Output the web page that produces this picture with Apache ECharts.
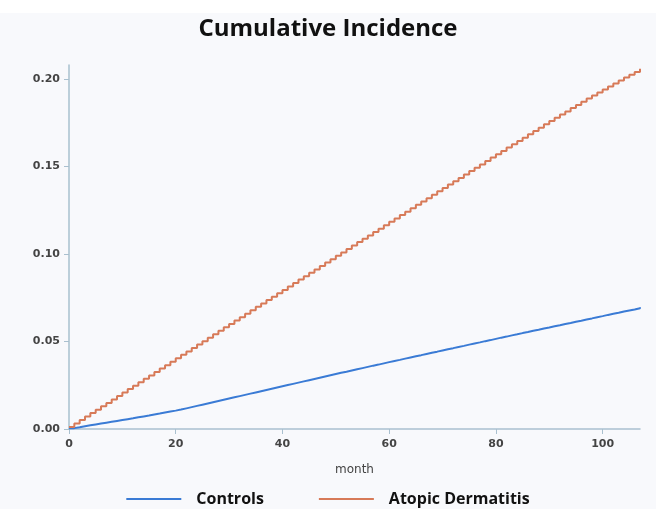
<!DOCTYPE html>
<html>
<head>
<meta charset="utf-8">
<script src="https://cdn.jsdelivr.net/npm/echarts@6/dist/echarts.min.js"></script>
<style>
  html, body { margin: 0; padding: 0; background: #f8f9fc; }
  #chart { width: 656px; height: 509px; }
</style>
</head>
<body>
<div id="chart"></div>
<script>
// month 0..107, cumulative incidence
var atopic = [
  0.0012, 0.0032, 0.0052, 0.0072, 0.0091, 0.0110, 0.0130, 0.0149, 0.0169, 0.0188,
  0.0208, 0.0228, 0.0247, 0.0267, 0.0287, 0.0306, 0.0326, 0.0346, 0.0365, 0.0385,
  0.0404, 0.0424, 0.0443, 0.0463, 0.0483, 0.0502, 0.0522, 0.0541, 0.0561, 0.0581,
  0.0600, 0.0620, 0.0639, 0.0659, 0.0678, 0.0698, 0.0717, 0.0737, 0.0756, 0.0776,
  0.0795, 0.0815, 0.0834, 0.0854, 0.0873, 0.0893, 0.0912, 0.0931, 0.0951, 0.0970,
  0.0990, 0.1009, 0.1029, 0.1048, 0.1068, 0.1087, 0.1106, 0.1126, 0.1145, 0.1165,
  0.1184, 0.1203, 0.1223, 0.1242, 0.1261, 0.1281, 0.1300, 0.1319, 0.1339, 0.1358,
  0.1377, 0.1397, 0.1416, 0.1435, 0.1454, 0.1474, 0.1493, 0.1512, 0.1531, 0.1551,
  0.1570, 0.1589, 0.1608, 0.1627, 0.1646, 0.1665, 0.1684, 0.1703, 0.1722, 0.1741,
  0.1760, 0.1778, 0.1797, 0.1815, 0.1834, 0.1852, 0.1870, 0.1888, 0.1906, 0.1923,
  0.1940, 0.1957, 0.1974, 0.1991, 0.2008, 0.2024, 0.2040, 0.2058
];
var controls = [
  0.0005, 0.0010, 0.0016, 0.0021, 0.0026, 0.0031, 0.0036, 0.0041, 0.0046, 0.0051,
  0.0056, 0.0061, 0.0067, 0.0072, 0.0077, 0.0083, 0.0088, 0.0094, 0.0100, 0.0105,
  0.0111, 0.0118, 0.0125, 0.0132, 0.0139, 0.0146, 0.0153, 0.0160, 0.0167, 0.0174,
  0.0181, 0.0188, 0.0195, 0.0202, 0.0209, 0.0216, 0.0223, 0.0230, 0.0237, 0.0244,
  0.0251, 0.0258, 0.0265, 0.0272, 0.0279, 0.0286, 0.0293, 0.0300, 0.0307, 0.0314,
  0.0321, 0.0327, 0.0334, 0.0341, 0.0348, 0.0355, 0.0362, 0.0368, 0.0375, 0.0382,
  0.0389, 0.0395, 0.0402, 0.0409, 0.0416, 0.0422, 0.0429, 0.0436, 0.0442, 0.0449,
  0.0456, 0.0462, 0.0469, 0.0475, 0.0482, 0.0489, 0.0495, 0.0502, 0.0508, 0.0515,
  0.0522, 0.0528, 0.0535, 0.0541, 0.0548, 0.0554, 0.0561, 0.0567, 0.0574, 0.0580,
  0.0587, 0.0593, 0.0600, 0.0606, 0.0613, 0.0619, 0.0626, 0.0632, 0.0639, 0.0645,
  0.0652, 0.0658, 0.0664, 0.0671, 0.0677, 0.0683, 0.0690, 0.0696
];
var xTicks = [0, 20, 40, 60, 80, 100];
var yTicks = [0, 0.05, 0.10, 0.15, 0.20];
var seriesNames = ['Controls', 'Atopic Dermatitis'];

function pairs(arr) {
  var out = [];
  for (var i = 0; i < arr.length; i++) out.push([i, arr[i]]);
  return out;
}

var myChart = echarts.init(document.getElementById('chart'));
var axisColor = '#a9c0cf';
var labelFont = { color: '#444', fontSize: 11, fontWeight: 'bold', fontFamily: 'DejaVu Sans' };

var option = {
  backgroundColor: '#f8f9fc',
  animation: false,
  graphic: [{
    type: 'rect', left: 0, top: 0,
    shape: { width: 656, height: 13 },
    style: { fill: '#ffffff' }, silent: true, z: -1
  }],
  title: {
    text: 'Cumulative Incidence',
    left: 'center', top: 12,
    textStyle: { fontSize: 24, fontWeight: 'bold', color: '#111', fontFamily: 'Open Sans' }
  },
  grid: { left: 69, right: 16, top: 65, bottom: 80 },
  xAxis: {
    type: 'value', min: 0, max: 107,
    name: 'month', nameLocation: 'middle', nameGap: 35,
    nameTextStyle: { color: '#444', fontSize: 12, fontFamily: 'DejaVu Sans' },
    axisLine: { show: true, lineStyle: { color: axisColor, width: 1.5 } },
    axisTick: { show: true, length: 5, customValues: xTicks, lineStyle: { color: axisColor } },
    axisLabel: Object.assign({ customValues: xTicks, margin: 10 }, labelFont),
    splitLine: { show: false }
  },
  yAxis: {
    type: 'value', min: 0, max: 0.208,
    axisLine: { show: true, lineStyle: { color: axisColor, width: 1.5 } },
    axisTick: { show: true, length: 5, customValues: yTicks, lineStyle: { color: axisColor } },
    axisLabel: Object.assign({
      customValues: yTicks, margin: 9,
      formatter: function (v) { return v.toFixed(2); }
    }, labelFont),
    splitLine: { show: false }
  },
  legend: {
    bottom: -3, left: 'center',
    icon: 'rect',
    itemWidth: 55, itemHeight: 2, itemGap: 55,
    textStyle: { fontSize: 16, fontWeight: 'bold', color: '#111', fontFamily: 'Open Sans', padding: [0, 0, 0, 10] },
    data: seriesNames
  },
  series: [{
    name: seriesNames[0],
    type: 'line', step: 'end', symbol: 'none',
    data: pairs(controls),
    lineStyle: { color: '#3a7bd5', width: 2 },
    itemStyle: { color: '#3a7bd5' }
  }, {
    name: seriesNames[1],
    type: 'line', step: 'end', symbol: 'none',
    data: pairs(atopic),
    lineStyle: { color: '#d77a58', width: 2 },
    itemStyle: { color: '#d77a58' }
  }]
};

myChart.setOption(option);
</script>
</body>
</html>
